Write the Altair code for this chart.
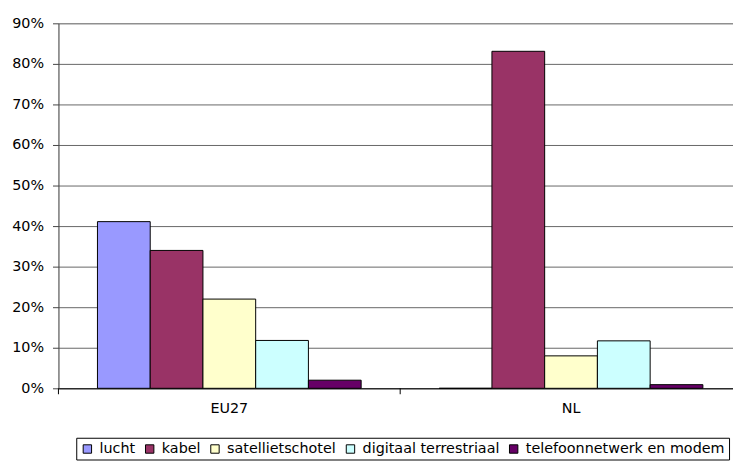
import altair as alt
import pandas as pd

groups = ["EU27", "NL"]
series = ["lucht", "kabel", "satellietschotel", "digitaal terrestriaal", "telefoonnetwerk en modem"]
eu27 = [41.1, 34.0, 22.0, 11.8, 2.0]
nl = [0.0, 83.1, 8.0, 11.7, 0.9]
colors = ["#9999FF", "#993366", "#FFFFCC", "#CCFFFF", "#660066"]
y_ticks = [0, 10, 20, 30, 40, 50, 60, 70, 80, 90]

rows = []
for g, vals in zip(groups, [eu27, nl]):
    for s, v in zip(series, vals):
        rows.append({"group": g, "series": s, "value": v / 100})
df = pd.DataFrame(rows)
tick_df = pd.DataFrame({"group": groups})

FONT = "DejaVu Sans"

x_scale = alt.Scale(range=[0, 691], paddingInner=0, paddingOuter=0)

bars = alt.Chart(df).mark_bar(stroke="black", strokeWidth=1).encode(
    x=alt.X("group:N", sort=groups, scale=x_scale,
            axis=alt.Axis(title=None, labelAngle=0, ticks=False, labelPadding=13,
                          domainColor="black", domainWidth=1, grid=False,
                          labelFontSize=14.5, labelColor="black", labelFont=FONT)),
    y=alt.Y("value:Q", scale=alt.Scale(domain=[0, 0.9], nice=False),
            axis=alt.Axis(title=None, format=".0%", values=[v / 100 for v in y_ticks],
                          tickSize=6, labelPadding=9, gridColor="#666666", gridWidth=1,
                          domainColor="#444444", tickColor="#444444",
                          labelFontSize=14.5, labelColor="black", labelFont=FONT)),
    xOffset=alt.XOffset("series:N", sort=series,
                        scale=alt.Scale(paddingInner=0, paddingOuter=0.74)),
    color=alt.Color("series:N", sort=series,
                    scale=alt.Scale(domain=series, range=colors),
                    legend=alt.Legend(title=None, orient="none", legendX=18, legendY=419,
                                      direction="horizontal", columns=5,
                                      symbolType="square", symbolSize=72,
                                      symbolStrokeColor="black", symbolStrokeWidth=1,
                                      labelFont=FONT, labelFontSize=14.5, labelColor="black",
                                      labelLimit=0, labelOffset=5, columnPadding=7,
                                      strokeColor="black", fillColor="white", padding=4)),
)

ticks = alt.Chart(tick_df).mark_rule(color="black", strokeWidth=1).encode(
    x=alt.X("group:N", sort=groups, bandPosition=0),
    y=alt.value(369),
    y2=alt.value(375),
)

chart = alt.layer(bars, ticks).properties(
    width=682,
    height=369,
    autosize=alt.AutoSizeParams(type="none"),
    padding={"left": 51, "top": 13, "right": 0, "bottom": 71},
).configure_view(stroke=None).configure(font=FONT)

chart.save("out.html", embed_options={"renderer": "svg", "actions": False})
